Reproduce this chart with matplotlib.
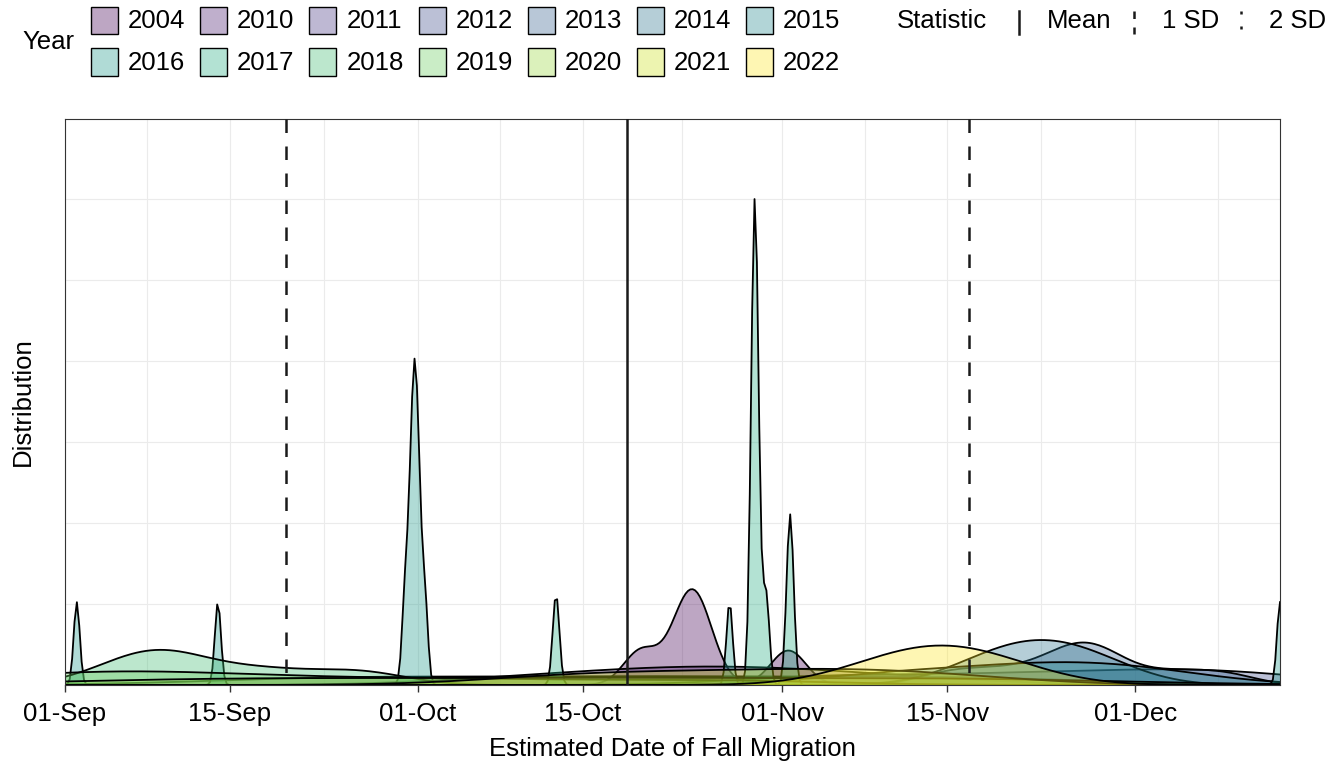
import numpy as np
import matplotlib
matplotlib.use("Agg")
import matplotlib.pyplot as plt
from matplotlib.lines import Line2D
from matplotlib.patches import Rectangle

plt.rcParams['font.family'] = ['Liberation Sans', 'DejaVu Sans']

# ---------------- data ----------------
# estimated migration dates per year, in days after 01-Sep
years = ["2004", "2010", "2011", "2012", "2013", "2014", "2015",
         "2016", "2017", "2018", "2019", "2020", "2021", "2022"]
obs_2004 = [49.0, 52.6, 53.3, 54.1, 61.5]
obs_2010 = [40, 50, 55, 60, 70]
obs_2011 = [25, 50, 75]
obs_2012 = [65, 80, 92, 100]
obs_2013 = [75, 79, 83, 85.5, 86.5, 87.5, 89, 94, 98.5]
obs_2014 = [79, 83, 87]
obs_2015 = [70, 80, 86, 92]
obs_2016 = [1.0, 13.0, 28.9, 29.3, 29.55, 29.65, 29.8, 29.95, 30.15, 30.6, 56.5, 103.3]
obs_2017 = [41.75, 58.45, 58.6, 58.6, 58.65, 58.75, 58.9, 59.6, 61.55, 61.75]
obs_2018 = [5, 8, 10, 17, 25]
obs_2019 = [0, 3, 8, 20, 35, 55]
obs_2020 = [15, 45, 75]
obs_2021 = [45, 60, 72]
obs_2022 = [70, 73, 76, 79]
obs = [obs_2004, obs_2010, obs_2011, obs_2012, obs_2013, obs_2014, obs_2015,
       obs_2016, obs_2017, obs_2018, obs_2019, obs_2020, obs_2021, obs_2022]
# kernel bandwidth per year (days)
bandwidth = [1.5, 9, 12, 8, 2.7, 4.5, 7, 0.26, 0.285, 4.0, 10, 15, 9, 5.5]

mean_day = 47.8      # mean estimated date (days after 01-Sep)
sd_days = 29.05

tick_days = [0, 14, 30, 44, 61, 75, 91]
tick_labels = ["01-Sep", "15-Sep", "01-Oct", "15-Oct", "01-Nov", "15-Nov", "01-Dec"]
minor_days = [7, 22, 37, 52.5, 68, 83, 98]

# ---------------- figure ----------------
W, H = 1340, 764
fig = plt.figure(figsize=(W / 100, H / 100), dpi=100)
ax = fig.add_axes([65 / W, 1 - 685 / H, (1280 - 65) / W, (685 - 119) / H])

lo = min(min(o) for o in obs)
hi = max(max(o) for o in obs)
grid = np.linspace(lo, hi, 512)

cols = plt.get_cmap("viridis")(np.linspace(0, 1, len(years)))
alpha = 0.35


def kde(points, bw):
    p = np.asarray(points, dtype=float)
    z = (grid[:, None] - p[None, :]) / bw
    return np.exp(-0.5 * z ** 2).sum(axis=1) / (len(p) * bw * np.sqrt(2 * np.pi))


for i, yr in enumerate(years):
    d = kde(obs[i], bandwidth[i])
    fc = (*cols[i][:3], alpha)
    ax.fill_between(grid, 0, d, facecolor=fc, edgecolor="none", zorder=2 + i * 0.01)
    ax.plot(grid, d, color="black", lw=1.3, zorder=2.005 + i * 0.01)

# statistic lines (drawn top to bottom so the dash pattern starts at the top)
xt = ax.get_xaxis_transform()
ax.plot([mean_day, mean_day], [1, 0], transform=xt, color="#1a1a1a", lw=1.8, zorder=5)
for s in (-1, 1):
    x = mean_day + s * sd_days
    ax.plot([x, x], [1, 0], transform=xt, color="#1a1a1a", lw=1.8,
            dashes=(5.4, 5.4), zorder=5)
for s in (-2, 2):
    x = mean_day + s * sd_days
    ax.plot([x, x], [1, 0], transform=xt, color="#1a1a1a", lw=1.8,
            dashes=(1, 3), zorder=5)

ax.set_xlim(lo, hi)
ax.set_ylim(0, 0.873)

# grid
for x in tick_days + minor_days:
    ax.axvline(x, color="#ebebeb", lw=0.8, zorder=0)
for y in np.arange(0.125, 0.8, 0.125):
    ax.axhline(y, color="#ebebeb", lw=0.8, zorder=0)

ax.set_xticks(tick_days)
ax.set_xticklabels(tick_labels, fontsize=18.5, color="black")
ax.set_yticks([])
ax.tick_params(axis="x", length=5, width=1, color="#333333", pad=7)
for sp in ax.spines.values():
    sp.set_color("#333333")
    sp.set_linewidth(0.8)

ax.set_xlabel("Estimated Date of Fall Migration", fontsize=18.5, labelpad=8)
ax.set_ylabel("Distribution", fontsize=18.5, labelpad=22)


# ---------------- legends (drawn in figure pixels) ----------------
def fx(x):
    return x / W


def fy(y):
    return 1 - y / H


fig.text(fx(22), fy(42), "Year", fontsize=18.5, va="center", ha="left")
for i, yr in enumerate(years):
    row, col = divmod(i, 7)
    kx = 91 + col * 109.2
    ky = 7 + row * 41.5
    fig.add_artist(Rectangle((fx(kx), fy(ky + 27)), 27 / W, 27 / H,
                             transform=fig.transFigure,
                             facecolor=(*cols[i][:3], alpha),
                             edgecolor="black", lw=1.0))
    fig.text(fx(kx + 37), fy(ky + 14), yr, fontsize=18.5, va="center", ha="left")

fig.text(fx(897), fy(21), "Statistic", fontsize=18.5, va="center", ha="left")
stat_keys = [(1019, "Mean", "-"), (1134, "1 SD", (0, (3.0, 3.4))),
             (1241, "2 SD", (0, (1.2, 4.8)))]
for kx, lab, ls in stat_keys:
    fig.add_artist(Line2D([fx(kx), fx(kx)], [fy(11), fy(34)],
                          transform=fig.transFigure, color="#1a1a1a",
                          lw=1.8, linestyle=ls))
    fig.text(fx(kx + 28), fy(21), lab, fontsize=18.5, va="center", ha="left")

fig.savefig("out.png", dpi=100)
